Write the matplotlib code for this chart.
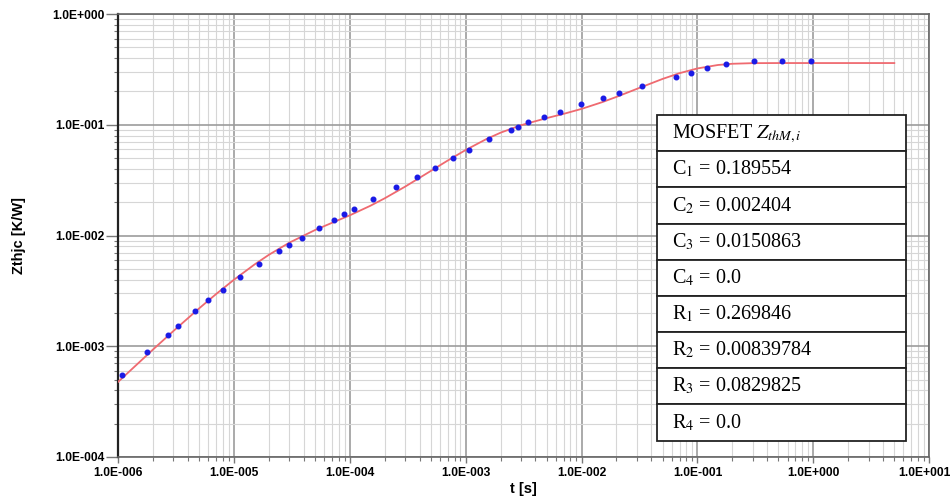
import math
import matplotlib
matplotlib.use("Agg")
import matplotlib.pyplot as plt
import matplotlib.transforms as mtransforms
from matplotlib.ticker import LogLocator, FuncFormatter, NullFormatter

# measured points (blue)
t_meas = [1.08e-6, 1.79e-6, 2.67e-6, 3.30e-6, 4.56e-6, 6.02e-6, 7.96e-6, 1.13e-5,
          1.63e-5, 2.46e-5, 3.01e-5, 3.83e-5, 5.41e-5, 7.23e-5, 8.82e-5, 1.09e-4,
          1.58e-4, 2.48e-4, 3.82e-4, 5.43e-4, 7.71e-4, 1.06e-3, 1.59e-3, 2.45e-3,
          2.81e-3, 3.47e-3, 4.71e-3, 6.47e-3, 9.82e-3, 1.52e-2, 2.09e-2, 3.32e-2,
          6.49e-2, 8.75e-2, 0.121, 0.177, 0.305, 0.542, 0.964]
z_meas = [5.52e-4, 8.85e-4, 1.27e-3, 1.53e-3, 2.07e-3, 2.64e-3, 3.25e-3, 4.23e-3,
          5.51e-3, 7.26e-3, 8.26e-3, 9.45e-3, 1.17e-2, 1.39e-2, 1.56e-2, 1.75e-2,
          2.13e-2, 2.73e-2, 3.36e-2, 4.06e-2, 5.01e-2, 5.92e-2, 7.44e-2, 9.07e-2,
          9.61e-2, 0.1064, 0.118, 0.1305, 0.153, 0.1764, 0.1924, 0.2226,
          0.2684, 0.2953, 0.3236, 0.356, 0.3742, 0.379, 0.379]

# fitted curve (red)
t_fit = [1e-6, 2e-6, 3e-6, 5e-6, 7e-6, 1e-5, 1.5e-5, 2e-5, 3e-5, 5e-5, 7e-5,
         1e-4, 1.5e-4, 2e-4, 3e-4, 5e-4, 7e-4, 1e-3, 1.5e-3, 2e-3, 3e-3, 5e-3,
         7e-3, 1e-2, 1.5e-2, 2e-2, 3e-2, 5e-2, 7e-2, 0.1, 0.15, 0.2, 0.3, 0.5,
         1.0, 2.0, 5.0]
z_fit = [4.773e-4, 9.351e-4, 1.3742e-3, 2.1997e-3, 2.9602e-3, 3.993e-3, 5.470e-3,
         6.701e-3, 8.620e-3, 1.1205e-2, 1.3018e-2, 1.5237e-2, 1.8553e-2, 2.1702e-2,
         2.7657e-2, 3.8347e-2, 4.7609e-2, 5.9272e-2, 7.4139e-2, 8.4932e-2,
         9.9195e-2, 0.11498, 0.12558, 0.13927, 0.15996, 0.17871, 0.21112,
         0.25969, 0.29256, 0.32302, 0.34685, 0.35582, 0.36046, 0.36121,
         0.36123, 0.36123, 0.36123]

table_rows = ["MOSFET $Z_{thM,i}$",
              "C$_1$ = 0.189554",
              "C$_2$ = 0.002404",
              "C$_3$ = 0.0150863",
              "C$_4$ = 0.0",
              "R$_1$ = 0.269846",
              "R$_2$ = 0.00839784",
              "R$_3$ = 0.0829825",
              "R$_4$ = 0.0"]

plt.rcParams['mathtext.fontset'] = 'stix'

fig = plt.figure(figsize=(9.53, 5.03), dpi=100)
ax = fig.add_axes([0.124, 0.0915, 0.851, 0.8805])

ax.plot(t_fit, z_fit, '-', color='#ef6a70', lw=1.3, zorder=3)
ax.plot(t_meas, z_meas, 'o', color='#1a1ae6', ms=3.3, mec='#1a1ae6', zorder=4)

ax.set_xscale('log')
ax.set_yscale('log')
ax.set_xlim(1e-6, 10)
ax.set_ylim(1e-4, 1)


def sci3(v, pos):
    e = int(round(math.log10(v)))
    sign = '+' if e >= 0 else '-'
    return "1.0E%s%03d" % (sign, abs(e))


for axis in (ax.xaxis, ax.yaxis):
    axis.set_major_locator(LogLocator(base=10, numticks=20))
    axis.set_minor_locator(LogLocator(base=10, subs=range(2, 10), numticks=20))
    axis.set_major_formatter(FuncFormatter(sci3))
    axis.set_minor_formatter(NullFormatter())

ax.grid(which='major', color='#9c9c9c', lw=1.2)
ax.grid(which='minor', color='#d6d6d6', lw=0.8)
ax.set_axisbelow(True)

ax.tick_params(which='both', labelsize=8.7, color='#777777')
ax.tick_params(axis='y', which='major', length=9, width=1, pad=0.5)
ax.tick_params(axis='y', which='minor', length=3, width=0.8)
ax.tick_params(axis='x', which='major', length=4, width=1, pad=3)
ax.tick_params(axis='x', which='minor', length=3, width=0.8)

for s in ax.spines.values():
    s.set_color('#666666')
    s.set_linewidth(1.2)
ax.spines['left'].set_color('#222222')
ax.spines['left'].set_linewidth(1.6)

ax.set_xlabel("t [s]", fontsize=10.5, fontweight='bold', family='Liberation Sans')
ax.set_ylabel("Zthjc [K/W]", fontsize=10.5, fontweight='bold', family='Liberation Sans')
ax.xaxis.set_label_coords(0.5, -0.056)
ax.yaxis.set_label_coords(-0.1134, 0.5)

tab = ax.table(cellText=[[r] for r in table_rows], cellLoc='left',
               bbox=[0.664, 0.037, 0.307, 0.735], zorder=5)
tab.auto_set_font_size(False)
tab.set_fontsize(14.5)
for (r, c), cell in tab.get_celld().items():
    cell.set_edgecolor('#222222')
    cell.set_linewidth(1.3)
    cell.set_facecolor('white')
    cell.PAD = 0.06
    cell.get_text().set_family('Liberation Serif')

fig.canvas.draw()
xmin, xmax = ax.get_xlim()
ymin, ymax = ax.get_ylim()
for lbl in ax.get_xticklabels():
    x = lbl.get_position()[0]
    if x < xmin * 0.99 or x > xmax * 1.01:
        lbl.set_visible(False)
for lbl in ax.get_yticklabels():
    y = lbl.get_position()[1]
    if y < ymin * 0.99 or y > ymax * 1.01:
        lbl.set_visible(False)
for lbl in ax.get_xticklabels() + ax.get_yticklabels():
    lbl.set_fontweight('bold')
    lbl.set_family('Liberation Sans')
    if lbl.get_text() == "1.0E+001":
        lbl.set_transform(lbl.get_transform() +
                          mtransforms.ScaledTranslation(-5 / 100, 0, fig.dpi_scale_trans))

fig.savefig("out.png", dpi=100)
